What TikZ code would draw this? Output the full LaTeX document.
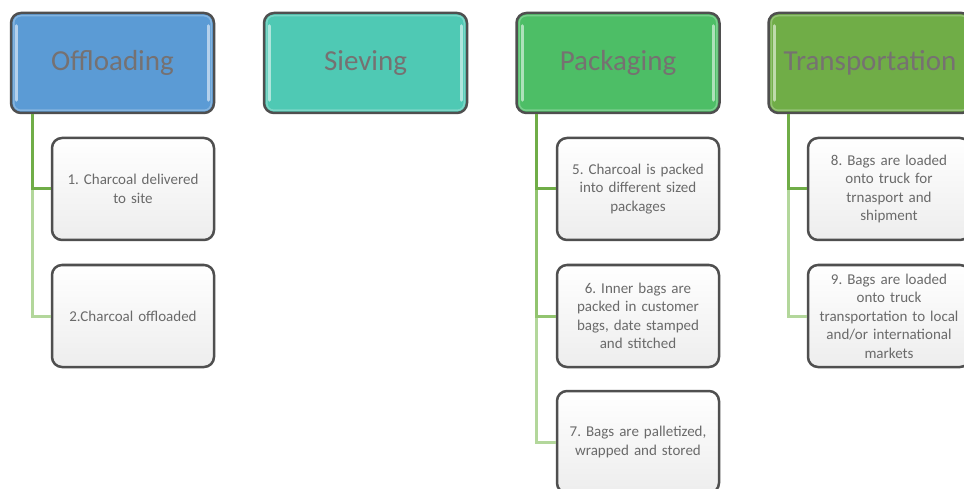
\documentclass[tikz,border=0pt]{standalone}
\usepackage{fontspec}
\setmainfont{Carlito}
\usetikzlibrary{calc}
\definecolor{hblue}{HTML}{5B9BD5}
\definecolor{hteal}{HTML}{4FC9B4}
\definecolor{hgreen}{HTML}{4DBE66}
\definecolor{holive}{HTML}{70AD47}
\definecolor{htext}{HTML}{767171}
\definecolor{ctext}{HTML}{6A6A6A}
\definecolor{bord}{HTML}{4F4F4F}
\definecolor{cA}{HTML}{70AD47}
\definecolor{cB}{HTML}{92C46F}
\definecolor{cC}{HTML}{B3D79B}
\tikzset{
  head/.style={draw=bord, line width=2.5pt, rounded corners=10pt, minimum width=203pt,
    minimum height=100pt, inner sep=0pt, text=htext, font=\fontsize{29}{32}\selectfont},
  childbox/.style={draw=bord, line width=2.5pt, rounded corners=10pt, minimum width=162pt,
    minimum height=102pt, inner sep=0pt, top color=white, bottom color=black!7,
    text=ctext, text width=158pt, align=center,
    font=\fontsize{15}{18.5}\selectfont\frenchspacing},
  conn/.style={line width=3pt},
  shine/.style={white, opacity=0.55, line width=3pt, line cap=round},
}
\newcommand{\headshine}[1]{%
  \draw[shine] ($(#1.north west)+(7pt,-14pt)$) -- ($(#1.south west)+(7pt,14pt)$);
  \draw[shine] ($(#1.north east)+(-7pt,-14pt)$) -- ($(#1.south east)+(-7pt,14pt)$);
  \draw[white, opacity=0.25, line width=1.5pt, rounded corners=7pt]
    ($(#1.north west)+(4pt,-4pt)$) rectangle ($(#1.south east)+(-4pt,4pt)$);
}
\begin{document}
\begin{tikzpicture}[x=1pt, y=-1pt]
\useasboundingbox (0,0) rectangle (964,489);
\clip (0,0) rectangle (964,489);
\fill[white] (0,0) rectangle (964,489);

% headers
\node[head, fill=hblue] (h1) at (112.5,63) {Offloading};
\node[head, fill=hteal] (h2) at (365.5,63) {Sieving};
\node[head, fill=hgreen] (h3) at (618,63) {Packaging};
\node[head, fill=holive] (h4) at (870,63) {Transportation};
\headshine{h1}\headshine{h2}\headshine{h3}\headshine{h4}

% children
\node[childbox] (c1) at (133,189) {1. Charcoal delivered\\to site};
\node[childbox] (c2) at (133,316) {2.Charcoal offloaded};
\node[childbox] (p5) at (638,189) {5. Charcoal is packed\\into different sized\\packages};
\node[childbox] (p6) at (638,316) {6. Inner bags are\\packed in customer\\bags, date stamped\\and stitched};
\node[childbox] (p7) at (638,442) {7. Bags are palletized,\\wrapped and stored};
\node[childbox] (t8) at (889,189) {8. Bags are loaded\\onto truck for\\trnasport and\\shipment};
\node[childbox] (t9) at (889,316) {9. Bags are loaded\\onto truck\\transportation to local\\and/or international\\markets};

% connectors
\coordinate (r1) at ($(h1.south west)+(23pt,0)$);
\coordinate (r3) at ($(h3.south west)+(21pt,0)$);
\coordinate (r4) at ($(h4.south west)+(21pt,0)$);
\draw[conn, cC] (r1) |- (c2.west);
\draw[conn, cA] (r1) |- (c1.west);
\draw[conn, cC] (r3) |- (p7.west);
\draw[conn, cB] (r3) |- (p6.west);
\draw[conn, cA] (r3) |- (p5.west);
\draw[conn, cC] (r4) |- (t9.west);
\draw[conn, cA] (r4) |- (t8.west);
\end{tikzpicture}
\end{document}
